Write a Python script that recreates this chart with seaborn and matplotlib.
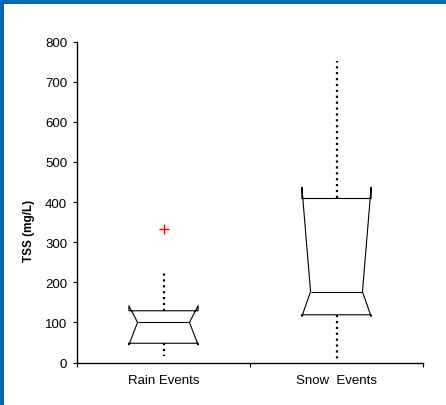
import matplotlib
matplotlib.use("Agg")
import matplotlib.pyplot as plt
import seaborn as sns
from matplotlib.patches import Rectangle

# ---- data ----
categories = ["Rain Events", "Snow  Events"]
whisker_low = [17, 9]
q1_values = [48, 119]
median_values = [100, 176.5]
q3_values = [129, 409]
whisker_high = [231, 753]
notch_low = [44, 115]
notch_high = [141.6, 437]
outliers = [[333], []]
y_ticks = [0, 100, 200, 300, 400, 500, 600, 700, 800]

sns.set_style("ticks")
plt.rcParams["font.family"] = ["Liberation Sans", "DejaVu Sans"]

fig = plt.figure(figsize=(4.46, 4.06), dpi=100)
ax = fig.add_axes([77 / 446, 1 - 363.5 / 406, 346 / 446, 320.8 / 406])

stats = []
for i, c in enumerate(categories):
    stats.append(dict(label=c, whislo=whisker_low[i], q1=q1_values[i],
                      med=median_values[i], q3=q3_values[i],
                      whishi=whisker_high[i], cilo=notch_low[i],
                      cihi=notch_high[i], fliers=outliers[i]))

positions = list(range(len(categories)))
box_width = 0.4
art = ax.bxp(stats, positions=positions, widths=box_width, shownotches=True,
             showcaps=False, manage_ticks=False,
             boxprops=dict(color="black", linewidth=0.8),
             medianprops=dict(color="black", linewidth=0.8),
             whiskerprops=dict(color="black", linestyle=":", linewidth=1.6),
             flierprops=dict(marker="+", markeredgecolor="red",
                             markerfacecolor="red", markersize=7,
                             markeredgewidth=1.0, linestyle="none"))

# narrower notch inset, as in the reference
for pos, box, medline in zip(positions, art["boxes"], art["medians"]):
    xd = list(box.get_xdata())
    xd[3] = pos + box_width * 0.375
    xd[8] = pos - box_width * 0.375
    box.set_xdata(xd)
    medline.set_xdata([pos - box_width * 0.375, pos + box_width * 0.375])

ax.set_xlim(-0.5, len(categories) - 0.5)
ax.set_ylim(0, 800)
ax.set_yticks(y_ticks)
ax.set_yticklabels([str(t) for t in y_ticks], fontsize=9.5, color="black")

ax.set_xticks([p - 0.5 for p in positions] + [positions[-1] + 0.5])
ax.set_xticklabels([])
ax.set_xticks(positions, minor=True)
ax.set_xticklabels(categories, minor=True, fontsize=9.5, color="black")
ax.tick_params(axis="x", which="major", direction="out", length=3, width=0.8, color="black")
ax.tick_params(axis="x", which="minor", length=0, pad=8)
ax.tick_params(axis="y", direction="out", length=3, width=0.8, color="black", pad=4)

sns.despine(ax=ax)
for s in ["left", "bottom"]:
    ax.spines[s].set_color("black")
    ax.spines[s].set_linewidth(1.0)

ax.set_ylabel("TSS (mg/L)", fontsize=8.5, fontweight="bold", color="black")
ax.yaxis.set_label_coords(-0.121, 0.413)

# blue frame on top and left
fig.add_artist(Rectangle((0, 1 - 5 / 406), 1, 5 / 406, transform=fig.transFigure,
                         facecolor="#0068B0", edgecolor="none"))
fig.add_artist(Rectangle((0, 0), 4 / 446, 1, transform=fig.transFigure,
                         facecolor="#0068B0", edgecolor="none"))

fig.savefig("out.png", dpi=100)
